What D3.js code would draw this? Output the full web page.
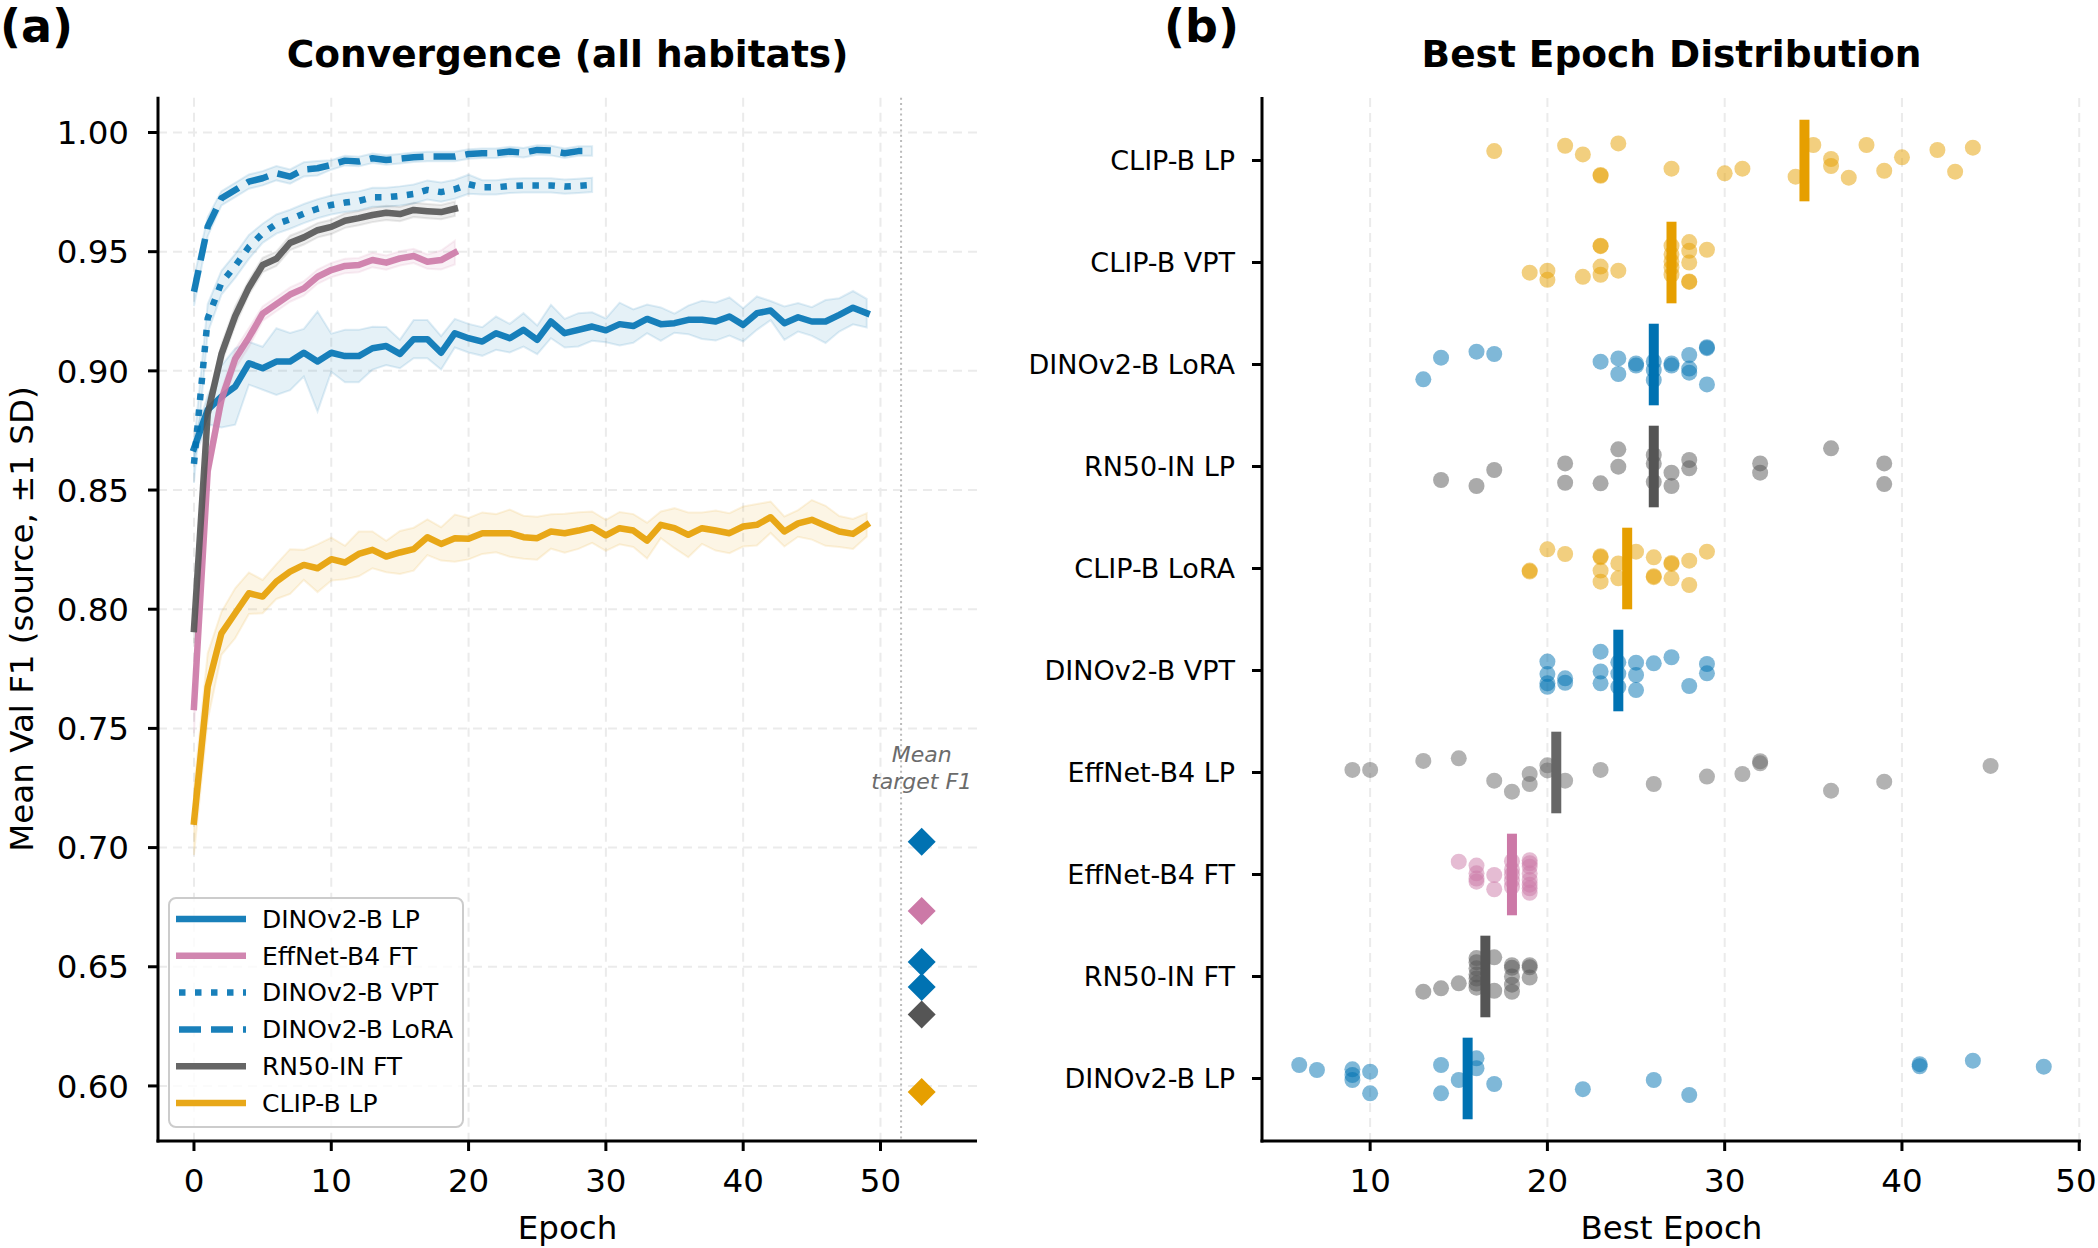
<!DOCTYPE html>
<html>
<head>
<meta charset="utf-8">
<script src="https://cdn.jsdelivr.net/npm/d3@7"></script>
<style>
  body { margin: 0; background: #fff; }
  text { font-family: "DejaVu Sans", sans-serif; }
</style>
</head>
<body>
<svg id="fig" width="2098" height="1248"></svg>
<script>
// ---- panel (a): mean val F1 per epoch and SD ----
var lpMean = [0.8675, 0.8836, 0.8892, 0.8934, 0.9032, 0.9011, 0.9039, 0.9039, 0.9076, 0.9039,
  0.9076, 0.9062, 0.9062, 0.9095, 0.9104, 0.9071, 0.9133, 0.9133, 0.9076, 0.9158,
  0.9137, 0.9123, 0.9158, 0.9137, 0.9172, 0.9130, 0.9207, 0.9158, 0.9172, 0.9186,
  0.9170, 0.9196, 0.9188, 0.9218, 0.9196, 0.9200, 0.9214, 0.9214, 0.9207, 0.9228,
  0.9193, 0.9242, 0.9253, 0.9200, 0.9225, 0.9207, 0.9207, 0.9235, 0.9265, 0.9242];
var lpSd = [0.004, 0.006, 0.013, 0.016, 0.009, 0.009, 0.014, 0.012, 0.010, 0.021,
  0.008, 0.011, 0.011, 0.009, 0.008, 0.006, 0.008, 0.008, 0.007, 0.006,
  0.006, 0.006, 0.007, 0.006, 0.007, 0.006, 0.007, 0.006, 0.007, 0.006,
  0.005, 0.009, 0.007, 0.006, 0.007, 0.004, 0.006, 0.008, 0.008, 0.008,
  0.007, 0.007, 0.004, 0.007, 0.006, 0.006, 0.009, 0.007, 0.007, 0.006];

var effFtMean = [0.759, 0.858, 0.888, 0.905, 0.914, 0.924, 0.928, 0.932, 0.9346, 0.9395,
  0.9423, 0.944, 0.9444, 0.9465, 0.9454, 0.9472, 0.9482, 0.9458, 0.9465, 0.9496];
var effFtSd = [0.011, 0.006, 0.004, 0.004, 0.004, 0.003, 0.003, 0.003, 0.003, 0.003,
  0.003, 0.003, 0.003, 0.003, 0.003, 0.003, 0.003, 0.003, 0.004, 0.005];

var vptMean = [0.861, 0.922, 0.937, 0.944, 0.952, 0.9577, 0.9616, 0.9636, 0.966, 0.968,
  0.9696, 0.9706, 0.9713, 0.9728, 0.9728, 0.9734, 0.9742, 0.9759, 0.975, 0.9762,
  0.9783, 0.977, 0.977, 0.9776, 0.9778, 0.9778, 0.9778, 0.9773, 0.9776, 0.978];
var vptSd = [0.008, 0.006, 0.005, 0.005, 0.005, 0.004, 0.004, 0.004, 0.004, 0.004,
  0.004, 0.004, 0.004, 0.004, 0.004, 0.004, 0.004, 0.004, 0.004, 0.004,
  0.004, 0.003, 0.003, 0.003, 0.003, 0.003, 0.003, 0.003, 0.003, 0.003];

var loraMean = [0.9332, 0.9605, 0.9724, 0.9759, 0.9794, 0.9808, 0.9829, 0.9815, 0.9845, 0.985,
  0.9864, 0.9882, 0.9878, 0.9892, 0.9885, 0.989, 0.9896, 0.9899, 0.9899, 0.9899,
  0.991, 0.9913, 0.9913, 0.992, 0.9915, 0.9927, 0.9924, 0.9913, 0.9922, 0.9922];
var loraSd = [0.006, 0.004, 0.003, 0.003, 0.003, 0.003, 0.003, 0.003, 0.003, 0.003,
  0.002, 0.002, 0.002, 0.002, 0.002, 0.002, 0.002, 0.002, 0.002, 0.002,
  0.002, 0.002, 0.002, 0.002, 0.002, 0.002, 0.002, 0.002, 0.002, 0.002];

var rnFtMean = [0.7917, 0.882, 0.907, 0.923, 0.935, 0.9444, 0.947, 0.9537, 0.956, 0.959,
  0.9604, 0.963, 0.9641, 0.9654, 0.9663, 0.9658, 0.9675, 0.967, 0.9666, 0.968];
var rnFtSd = [0.006, 0.005, 0.004, 0.004, 0.003, 0.003, 0.003, 0.003, 0.003, 0.003,
  0.003, 0.003, 0.003, 0.003, 0.003, 0.003, 0.003, 0.003, 0.003, 0.003];

var clipLpMean = [0.7109, 0.7675, 0.7899, 0.7983, 0.8067, 0.8053, 0.8116, 0.8158, 0.8186, 0.8172,
  0.8210, 0.8196, 0.8232, 0.8249, 0.8221, 0.8238, 0.8252, 0.8302, 0.8274, 0.8298,
  0.8296, 0.8319, 0.8319, 0.8319, 0.8302, 0.8298, 0.8326, 0.8319, 0.8330, 0.8344,
  0.8310, 0.8340, 0.8330, 0.8288, 0.8354, 0.8340, 0.8312, 0.8340, 0.8330, 0.8319,
  0.8347, 0.8354, 0.8386, 0.8326, 0.8360, 0.8375, 0.8350, 0.8326, 0.8316, 0.8354];
var clipLpSd = [0.014, 0.014, 0.009, 0.0105, 0.0087, 0.007, 0.0073, 0.0094, 0.0063, 0.010,
  0.009, 0.007, 0.0094, 0.0077, 0.0066, 0.009, 0.009, 0.0075, 0.007, 0.0099,
  0.0087, 0.0087, 0.008, 0.0099, 0.009, 0.009, 0.0072, 0.0082, 0.0077, 0.0066,
  0.0065, 0.0068, 0.0069, 0.0075, 0.0056, 0.0084, 0.0094, 0.0066, 0.0084, 0.0084,
  0.0084, 0.0087, 0.0066, 0.0063, 0.0056, 0.0083, 0.0084, 0.0065, 0.0063, 0.0049];

var seriesNames = ['DINOv2-B LP', 'EffNet-B4 FT', 'DINOv2-B VPT', 'DINOv2-B LoRA', 'RN50-IN FT', 'CLIP-B LP'];
var targetF1 = [0.7024, 0.6734, 0.6415, 0.652, 0.630, 0.5975];

// ---- panel (b): best epoch per run ----
var models = ['CLIP-B LP', 'CLIP-B VPT', 'DINOv2-B LoRA', 'RN50-IN LP', 'CLIP-B LoRA',
  'DINOv2-B VPT', 'EffNet-B4 LP', 'EffNet-B4 FT', 'RN50-IN FT', 'DINOv2-B LP'];
var bestEpochs = [
  [17, 21, 22, 23, 23, 24, 27, 30, 31, 34, 35, 36, 36, 37, 38, 39, 40, 42, 43, 44],
  [19, 20, 20, 22, 23, 23, 23, 23, 24, 27, 27, 27, 27, 27, 28, 28, 28, 28, 28, 29],
  [13, 14, 16, 17, 23, 24, 24, 25, 25, 26, 26, 26, 27, 27, 28, 28, 28, 29, 29, 29],
  [14, 16, 17, 21, 21, 23, 24, 24, 26, 26, 26, 27, 27, 28, 28, 32, 32, 36, 39, 39],
  [19, 19, 20, 21, 23, 23, 23, 23, 24, 24, 25, 26, 26, 26, 27, 27, 27, 28, 28, 29],
  [20, 20, 20, 20, 21, 21, 23, 23, 23, 24, 24, 24, 25, 25, 25, 26, 27, 28, 29, 29],
  [9, 10, 13, 15, 17, 18, 19, 19, 20, 20, 21, 23, 26, 29, 31, 32, 32, 36, 39, 45],
  [15, 16, 16, 16, 16, 17, 17, 18, 18, 18, 18, 18, 19, 19, 19, 19, 19, 19, 19, 19],
  [13, 14, 15, 16, 16, 16, 16, 16, 16, 16, 17, 17, 18, 18, 18, 18, 18, 19, 19, 19],
  [6, 7, 9, 9, 9, 10, 10, 14, 14, 15, 16, 16, 17, 22, 26, 28, 41, 41, 44, 48]
];
// vertical jitter of each dot, in row units
var jitter = [
  [-0.093, -0.145, -0.06, 0.142, 0.149, -0.168, 0.08, 0.126, 0.08, 0.158, -0.152, -0.015, 0.054, 0.168, -0.152, 0.1, -0.031, -0.103, 0.109, -0.126],
  [0.1, 0.08, 0.17, 0.14, -0.165, -0.16, 0.04, 0.12, 0.08, -0.165, -0.08, -0.01, 0.05, 0.12, -0.2, -0.115, 0.0, 0.185, 0.19, -0.125],
  [0.145, -0.067, -0.126, -0.103, -0.028, -0.06, 0.093, -0.01, 0.01, 0.054, 0.152, -0.03, -0.01, 0.01, -0.093, 0.04, 0.08, -0.17, -0.16, 0.195],
  [0.132, 0.191, 0.034, -0.03, 0.159, 0.165, -0.168, 0.002, -0.113, -0.03, 0.15, 0.06, 0.191, -0.064, 0.018, -0.03, 0.06, -0.178, -0.03, 0.172],
  [0.02, 0.03, -0.188, -0.142, -0.12, -0.11, 0.02, 0.129, 0.096, -0.05, -0.165, -0.11, 0.075, 0.085, -0.055, -0.045, 0.096, -0.077, 0.162, -0.165],
  [-0.087, 0.035, 0.125, 0.16, 0.077, 0.12, -0.185, 0.01, 0.126, -0.08, 0.03, 0.16, -0.077, 0.044, 0.192, -0.07, -0.13, 0.152, -0.064, 0.028],
  [-0.025, -0.025, -0.113, -0.139, 0.08, 0.188, 0.015, 0.113, -0.07, -0.02, 0.08, -0.025, 0.113, 0.04, 0.015, -0.11, -0.09, 0.178, 0.09, -0.064],
  [-0.126, -0.087, -0.011, 0.04, 0.07, 0.005, 0.145, -0.13, -0.05, 0.0, 0.06, 0.12, -0.14, -0.11, -0.077, -0.01, 0.054, 0.1, 0.136, 0.18],
  [0.149, 0.116, 0.067, -0.18, -0.14, -0.08, -0.02, 0.02, 0.07, 0.11, -0.188, 0.14, -0.11, -0.085, 0.0, 0.08, 0.15, -0.11, -0.09, 0.01],
  [-0.132, -0.083, -0.09, -0.034, 0.015, -0.067, 0.146, -0.132, 0.146, 0.015, -0.198, -0.1, 0.054, 0.105, 0.015, 0.162, -0.14, -0.12, -0.175, -0.116]
];

var xTicksA = [0, 10, 20, 30, 40, 50];
var yTicksA = [0.60, 0.65, 0.70, 0.75, 0.80, 0.85, 0.90, 0.95, 1.00];
var xTicksB = [10, 20, 30, 40, 50];

var BLUE = '#0072B2', PINK = '#CC79A7', ORANGE = '#E69F00', GRAY = '#555555';

function modelColor(name) {
  if (name.indexOf('CLIP') === 0) return ORANGE;
  if (name.indexOf('DINO') === 0) return BLUE;
  if (name === 'EffNet-B4 FT') return PINK;
  if (name === 'EffNet-B4 LP') return '#666666';
  return GRAY;
}

var series = [
  { mean: lpMean, sd: lpSd, color: BLUE, dash: null },
  { mean: effFtMean, sd: effFtSd, color: PINK, dash: null },
  { mean: vptMean, sd: vptSd, color: BLUE, dash: '6.5,9.5' },
  { mean: loraMean, sd: loraSd, color: BLUE, dash: '22,10' },
  { mean: rnFtMean, sd: rnFtSd, color: GRAY, dash: null },
  { mean: clipLpMean, sd: clipLpSd, color: ORANGE, dash: null }
];

var W = 2098;
var svg = d3.select('#fig');
var AX = 3, TICK = 10, TICKFONT = 32.5, ROWFONT = 27, TITLEFONT = 37.5;

function axisLines(g, x0, x1, y0, y1) {
  g.append('line').attr('x1', x0).attr('x2', x0).attr('y1', y0 - 1).attr('y2', y1 + AX / 2)
    .attr('stroke', '#000').attr('stroke-width', AX);
  g.append('line').attr('x1', x0 - AX / 2).attr('x2', x1).attr('y1', y1).attr('y2', y1)
    .attr('stroke', '#000').attr('stroke-width', AX);
}

// ================= panel (a) =================
var xA = d3.scaleLinear().domain([-2.62, 57.03]).range([158, 977]);
var yA = d3.scaleLinear().domain([0.5769, 1.0146]).range([1141, 97.7]);
var ga = svg.append('g');

ga.selectAll('.gx').data(xTicksA).enter().append('line')
  .attr('x1', function (d) { return xA(d); }).attr('x2', function (d) { return xA(d); })
  .attr('y1', yA.range()[1]).attr('y2', yA.range()[0])
  .attr('stroke', '#ebebeb').attr('stroke-width', 2).attr('stroke-dasharray', '9,6');
ga.selectAll('.gy').data(yTicksA).enter().append('line')
  .attr('y1', function (d) { return yA(d); }).attr('y2', function (d) { return yA(d); })
  .attr('x1', xA.range()[0]).attr('x2', xA.range()[1])
  .attr('stroke', '#ebebeb').attr('stroke-width', 2).attr('stroke-dasharray', '9,6');

// separator for the target markers
ga.append('line').attr('x1', xA(51.5)).attr('x2', xA(51.5))
  .attr('y1', yA.range()[1]).attr('y2', yA.range()[0])
  .attr('stroke', '#bbbbbb').attr('stroke-width', 2).attr('stroke-dasharray', '2,3.3');

var area = d3.area()
  .x(function (d, i) { return xA(i); })
  .y0(function (d) { return yA(d[0] - d[1]); })
  .y1(function (d) { return yA(d[0] + d[1]); });
var line = d3.line()
  .x(function (d, i) { return xA(i); })
  .y(function (d) { return yA(d); });

series.forEach(function (s) {
  var pairs = s.mean.map(function (m, i) { return [m, s.sd[i]]; });
  ga.append('path').attr('d', area(pairs))
    .attr('fill', s.color).attr('fill-opacity', 0.1)
    .attr('stroke', s.color).attr('stroke-opacity', 0.12).attr('stroke-width', 2);
  ga.append('path').attr('d', line(s.mean))
    .attr('fill', 'none').attr('stroke', s.color).attr('stroke-opacity', 0.9)
    .attr('stroke-width', 6.5).attr('stroke-linejoin', 'round')
    .attr('stroke-linecap', s.dash ? 'butt' : 'square')
    .attr('stroke-dasharray', s.dash);
});

// target F1 diamonds
var diamond = d3.symbol().type(d3.symbolSquare).size(392);
ga.selectAll('.tgt').data(targetF1).enter().append('path')
  .attr('d', diamond)
  .attr('transform', function (d) { return 'translate(' + xA(53) + ',' + yA(d) + ') rotate(45)'; })
  .attr('fill', function (d, i) { return series[i].color; });

ga.append('text').attr('x', xA(53)).attr('y', yA(0.7357))
  .attr('text-anchor', 'middle').attr('font-size', 22).attr('font-style', 'italic')
  .attr('fill', '#6b6b6b')
  .call(function (t) {
    t.append('tspan').attr('x', xA(53)).text('Mean');
    t.append('tspan').attr('x', xA(53)).attr('dy', 26.5).text('target F1');
  });

axisLines(ga, xA.range()[0], xA.range()[1], yA.range()[1], yA.range()[0]);

ga.selectAll('.tx').data(xTicksA).enter().append('line')
  .attr('x1', function (d) { return xA(d); }).attr('x2', function (d) { return xA(d); })
  .attr('y1', 1141).attr('y2', 1141 + TICK).attr('stroke', '#000').attr('stroke-width', AX);
ga.selectAll('.txl').data(xTicksA).enter().append('text')
  .attr('x', function (d) { return xA(d); }).attr('y', 1192)
  .attr('text-anchor', 'middle').attr('font-size', TICKFONT).text(function (d) { return d; });
ga.selectAll('.ty').data(yTicksA).enter().append('line')
  .attr('y1', function (d) { return yA(d); }).attr('y2', function (d) { return yA(d); })
  .attr('x1', 158 - TICK).attr('x2', 158).attr('stroke', '#000').attr('stroke-width', AX);
ga.selectAll('.tyl').data(yTicksA).enter().append('text')
  .attr('x', 129).attr('y', function (d) { return yA(d); }).attr('dy', '0.36em')
  .attr('text-anchor', 'end').attr('font-size', TICKFONT).text(function (d) { return d.toFixed(2); });

ga.append('text').attr('x', (158 + 977) / 2).attr('y', 1239).attr('text-anchor', 'middle')
  .attr('font-size', 32.5).text('Epoch');
ga.append('text').attr('transform', 'translate(33,619) rotate(-90)').attr('text-anchor', 'middle')
  .attr('font-size', 32.5).text('Mean Val F1 (source, \u00b11 SD)');
ga.append('text').attr('x', (158 + 977) / 2).attr('y', 67).attr('text-anchor', 'middle')
  .attr('font-size', TITLEFONT).attr('font-weight', 'bold').text('Convergence (all habitats)');
ga.append('text').attr('x', 0).attr('y', 42).attr('font-size', 46).attr('font-weight', 'bold').text('(a)');

// legend
var lg = ga.append('g');
lg.append('rect').attr('x', 169).attr('y', 898).attr('width', 294).attr('height', 229)
  .attr('rx', 7).attr('fill', '#fff').attr('fill-opacity', 0.8)
  .attr('stroke', '#cccccc').attr('stroke-width', 2);
seriesNames.forEach(function (name, i) {
  var y = 919 + i * 36.8, s = series[i];
  lg.append('line').attr('x1', 176).attr('x2', 246).attr('y1', y).attr('y2', y)
    .attr('stroke', s.color).attr('stroke-opacity', 0.9).attr('stroke-width', 6.5)
    .attr('stroke-dasharray', s.dash).attr('stroke-dashoffset', s.dash ? -3 : 0);
  lg.append('text').attr('x', 262).attr('y', y).attr('dy', '0.35em')
    .attr('font-size', 25).text(name);
});

// ================= panel (b) =================
var xB = d3.scaleLinear().domain([3.9, 50.1]).range([1262, 2081]);
var yB = d3.scaleLinear().domain([-0.613, 9.613]).range([98, 1141]);
var gb = svg.append('g');

gb.selectAll('.gx').data(xTicksB).enter().append('line')
  .attr('x1', function (d) { return xB(d); }).attr('x2', function (d) { return xB(d); })
  .attr('y1', 98).attr('y2', 1141)
  .attr('stroke', '#ebebeb').attr('stroke-width', 2).attr('stroke-dasharray', '9,6');

models.forEach(function (name, r) {
  var c = modelColor(name);
  var pts = bestEpochs[r].map(function (e, k) { return [e, jitter[r][k]]; });
  gb.selectAll('.dot' + r).data(pts).enter().append('circle')
    .attr('cx', function (d) { return xB(d[0]); })
    .attr('cy', function (d) { return yB(r + d[1]); })
    .attr('r', 8).attr('fill', c).attr('fill-opacity', 0.5);
  var med = d3.median(bestEpochs[r]);
  gb.append('rect').attr('x', xB(med) - 5).attr('width', 10)
    .attr('y', yB(r - 0.4)).attr('height', yB(r + 0.4) - yB(r - 0.4))
    .attr('fill', c);
});

axisLines(gb, 1262, 2081, 98, 1141);

gb.selectAll('.tx').data(xTicksB).enter().append('line')
  .attr('x1', function (d) { return xB(d); }).attr('x2', function (d) { return xB(d); })
  .attr('y1', 1141).attr('y2', 1141 + TICK).attr('stroke', '#000').attr('stroke-width', AX);
// last label sits at the page edge, keep it inside
gb.selectAll('.txl').data(xTicksB).enter().append('text')
  .attr('x', function (d) { return Math.min(xB(d), W - 22); }).attr('y', 1192)
  .attr('text-anchor', 'middle').attr('font-size', TICKFONT).text(function (d) { return d; });
gb.selectAll('.ty').data(models).enter().append('line')
  .attr('y1', function (d, i) { return yB(i); }).attr('y2', function (d, i) { return yB(i); })
  .attr('x1', 1262 - TICK).attr('x2', 1262).attr('stroke', '#000').attr('stroke-width', AX);
gb.selectAll('.tyl').data(models).enter().append('text')
  .attr('x', 1235).attr('y', function (d, i) { return yB(i); }).attr('dy', '0.36em')
  .attr('text-anchor', 'end').attr('font-size', ROWFONT).text(function (d) { return d; });

gb.append('text').attr('x', (1262 + 2081) / 2).attr('y', 1239).attr('text-anchor', 'middle')
  .attr('font-size', 32.5).text('Best Epoch');
gb.append('text').attr('x', (1262 + 2081) / 2).attr('y', 67).attr('text-anchor', 'middle')
  .attr('font-size', TITLEFONT).attr('font-weight', 'bold').text('Best Epoch Distribution');
gb.append('text').attr('x', 1164).attr('y', 42).attr('font-size', 46).attr('font-weight', 'bold').text('(b)');
</script>
</body>
</html>
